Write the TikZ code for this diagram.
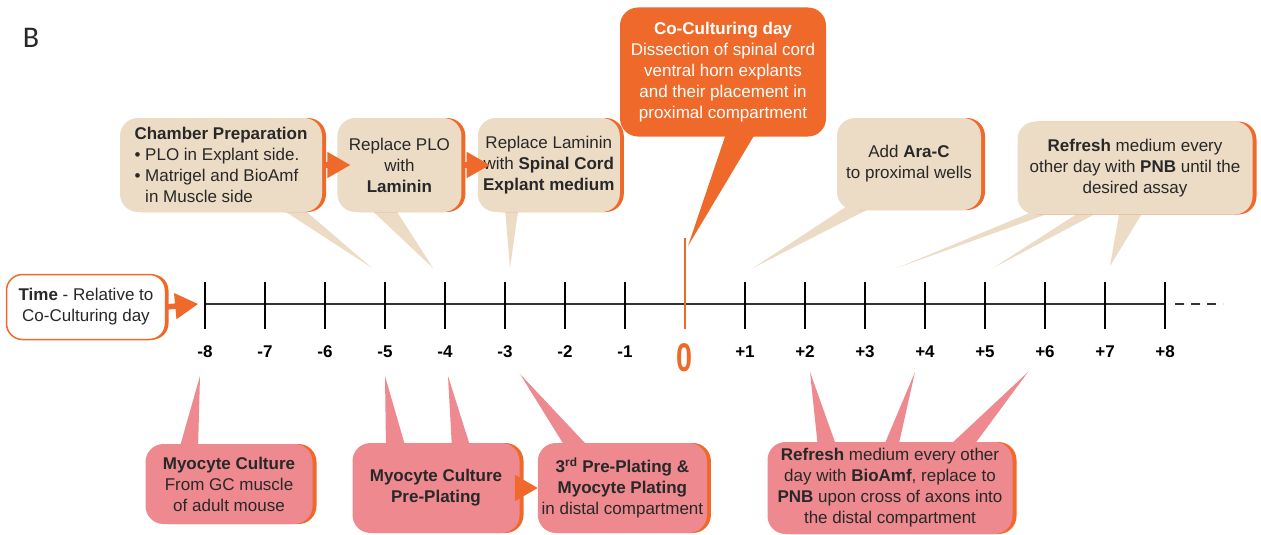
\documentclass[tikz,border=0pt]{standalone}
\usepackage{fontspec}
\setmainfont{Liberation Sans}
\newfontfamily\letrafont{Carlito}
\usetikzlibrary{arrows,positioning,shadows,backgrounds,calc}
\definecolor{cOrange}{RGB}{239,106,42}
\definecolor{cBeige}{RGB}{236,219,197}
\definecolor{cPink}{RGB}{237,137,143}
\definecolor{cText}{RGB}{40,40,40}

\begin{document}
\begin{tikzpicture}[x=1pt,y=-1pt,%
         every node/.style={font=\fontsize{17}{21}\selectfont,text=cText},
         caja/.style={rectangle,rounded corners=18pt,align=center,inner sep=3pt,
                      drop shadow={shadow xshift=4pt,shadow yshift=0pt,fill=cOrange,opacity=1}},
         cajatop/.style={caja,fill=cBeige},
         cajabot/.style={caja,fill=cPink},
         cajaco/.style={rectangle,rounded corners=18pt,align=center,inner sep=3pt,
                        fill=cOrange,text=white},
         etiq/.style={font=\fontsize{17}{21}\selectfont\bfseries,text=black},
         flecha/.style={->,>=triangle 60,line width=5.5pt,draw=cOrange},
         marca/.style={line width=2pt,draw=black},
         eje/.style={line width=1.3pt,draw=black!80}]
        \useasboundingbox (0,0) rectangle (1261,535);
        \node (letra) at (31,38) {\letrafont\fontsize{30}{30}\selectfont B};

        % time line
        \coordinate (inicio) at (205,304);
        \coordinate (fin) at (1165,304);
        \draw [eje] (inicio) -- (fin);
        \draw [eje,dash pattern=on 9pt off 7pt] ([xshift=10pt]fin) -- ([xshift=58pt]fin);
        \foreach \n [count=\k] in {-8,...,8}{
          \ifnum\n=0\relax\else
            \draw [marca] (685+60*\n,282) -- (685+60*\n,329);
            \node [etiq] (lab\k) at (685+60*\n,352) {\ifnum\n>0 +\fi\n};
          \fi
        }
        \draw [marca,draw=cOrange,line width=2.5pt] (685,238) -- (685,329);
        \node [etiq,text=cOrange,font=\fontsize{40}{40}\selectfont\bfseries] (lab0) at (685,358) {\scalebox{0.72}[1]{0}};

        \node [rectangle,rounded corners=16pt,fill=white,draw=cOrange,line width=1.5pt,
               drop shadow={shadow xshift=3pt,shadow yshift=0pt,fill=cOrange,opacity=1},
               minimum width=159pt,minimum height=65pt,align=center] (tiempo) at (86,307)
               {\textbf{Time} - Relative to\\Co-Culturing day};

        % top row
        \node [cajatop,minimum width=202pt,minimum height=94pt,align=left] (camara) at (221,165)
              {\textbf{Chamber Preparation}\\\textbullet\ PLO in Explant side.\\\textbullet\ Matrigel and BioAmf\\\phantom{\textbullet\ }in Muscle side};
        \node [cajatop,minimum width=124pt,minimum height=94pt] (laminina) [right=15pt of camara]
              {Replace PLO\\with\\\textbf{Laminin}};
        \node [cajatop,minimum width=142pt,minimum height=94pt] (explante) [right=16pt of laminina]
              {Replace Laminin\\with \textbf{Spinal Cord}\\\textbf{Explant medium}};
        \node [cajaco,minimum width=206pt,minimum height=129pt] (cocultivo) at (723,72)
              {\textbf{Co-Culturing day}\\Dissection of spinal cord\\ventral horn explants\\and their placement in\\proximal compartment};
        \node [cajatop,minimum width=144pt,minimum height=92pt] (arac) at (909,164)
              {Add \textbf{Ara-C}\\to proximal wells};
        \node [cajatop,minimum width=235pt,minimum height=93pt] (pnb) at (1135,168)
              {\textbf{Refresh} medium every\\other day with \textbf{PNB} until the\\desired assay};

        % bottom row
        \node [cajabot,minimum width=167pt,minimum height=80pt] (miocito) at (229,484)
              {\textbf{Myocyte Culture}\\From GC muscle\\of adult mouse};
        \node [cajabot,minimum width=167pt,minimum height=90pt] (preplaqueo) at (436,488)
              {\textbf{Myocyte Culture}\\\textbf{Pre-Plating}};
        \node [cajabot,minimum width=169pt,minimum height=90pt] (plaqueo) [right=18pt of preplaqueo]
              {\textbf{3\textsuperscript{rd} Pre-Plating \&}\\\textbf{Myocyte Plating}\\in distal compartment};
        \node [cajabot,minimum width=245pt,minimum height=92pt] (bioamf) at (890,488)
              {\textbf{Refresh} medium every other\\day with \textbf{BioAmf}, replace to\\\textbf{PNB} upon cross of axons into\\the distal compartment};

        % tips of the callouts
        \coordinate (pA) at (372,268);
        \coordinate (pB) at (433,268);
        \coordinate (pC) at (510,268);
        \coordinate (pD) at (688,246);
        \coordinate (pE) at (753,268);
        \coordinate (pF) at (897,268);
        \coordinate (pG) at (993,268);
        \coordinate (pH) at (1110,266);
        \coordinate (qA) at (200,376);
        \coordinate (qB) at (385,376);
        \coordinate (qC) at (448,376);
        \coordinate (qD) at (520,374);
        \coordinate (qE) at (810,372);
        \coordinate (qF) at (915,372);
        \coordinate (qG) at (1028,372);

        \begin{scope}[on background layer]
          \fill [cBeige] ($(camara.south)+(56,-6)$) -- (pA) -- ($(camara.south)+(79,-6)$) -- cycle;
          \fill [cBeige] ($(laminina.south)+(-32,-6)$) -- (pB) -- ($(laminina.south)+(-6,-6)$) -- cycle;
          \fill [cBeige] ($(explante.south)+(-44,-6)$) -- (pC) -- ($(explante.south)+(-30,-6)$) -- cycle;
          \fill [cOrange] ($(cocultivo.south)+(4,-6)$) -- (pD) -- ($(cocultivo.south)+(34,-6)$) -- cycle;
          \fill [cBeige] ($(arac.south)+(-59,-6)$) -- (pE) -- ($(arac.south)+(-31,-6)$) -- cycle;
          \fill [cBeige] ($(pnb.south)+(-95,-6)$) -- (pF) -- ($(pnb.south)+(-73,-6)$) -- cycle;
          \fill [cBeige] ($(pnb.south)+(-50,-6)$) -- (pG) -- ($(pnb.south)+(-30,-6)$) -- cycle;
          \fill [cBeige] ($(pnb.south)+(-15,-6)$) -- (pH) -- ($(pnb.south)+(10,-6)$) -- cycle;
          \fill [cPink] ($(miocito.north)+(-50,6)$) -- (qA) -- ($(miocito.north)+(-31,6)$) -- cycle;
          \fill [cPink] ($(preplaqueo.north)+(-50,6)$) -- (qB) -- ($(preplaqueo.north)+(-30,6)$) -- cycle;
          \fill [cPink] ($(preplaqueo.north)+(16,6)$) -- (qC) -- ($(preplaqueo.north)+(35,6)$) -- cycle;
          \fill [cPink] ($(plaqueo.north)+(-56,6)$) -- (qD) -- ($(plaqueo.north)+(-32,6)$) -- cycle;
          \fill [cPink] ($(bioamf.north)+(-72,6)$) -- (qE) -- ($(bioamf.north)+(-53,6)$) -- cycle;
          \fill [cPink] ($(bioamf.north)+(-7,6)$) -- (qF) -- ($(bioamf.north)+(8,6)$) -- cycle;
          \fill [cPink] ($(bioamf.north)+(57,6)$) -- (qG) -- ($(bioamf.north)+(82,6)$) -- cycle;
        \end{scope}

        \draw [flecha] (tiempo.east) -- ([xshift=-7pt]inicio);
        \draw [flecha] ([xshift=3pt]camara.east) -- ([xshift=13pt]laminina.west);
        \draw [flecha] ([xshift=3pt]laminina.east) -- ([xshift=12pt]explante.west);
        \draw [flecha] ([xshift=3pt]preplaqueo.east) -- (plaqueo.west);
      \end{tikzpicture}
\end{document}
